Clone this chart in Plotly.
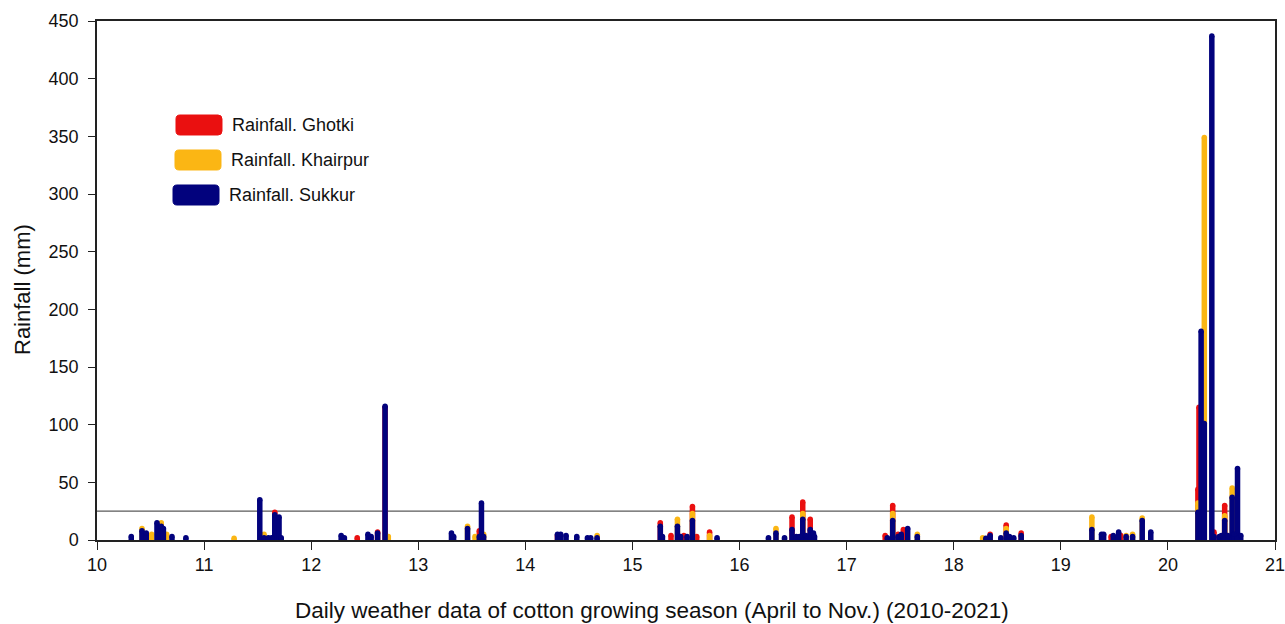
import plotly.graph_objects as go

# Fractional season position (year - 2000 + fraction of April-Nov season)
days = [10.32, 10.42, 10.46, 10.51, 10.56, 10.60, 10.62, 10.65, 10.70, 10.83,
        11.28, 11.52, 11.56, 11.60, 11.63, 11.66, 11.70, 11.72,
        12.28, 12.31, 12.43, 12.53, 12.56, 12.62, 12.69, 12.72,
        13.31, 13.33, 13.46, 13.53, 13.57, 13.59, 13.61,
        14.30, 14.33, 14.38, 14.48, 14.58, 14.61, 14.67,
        15.26, 15.28, 15.36, 15.42, 15.45, 15.48, 15.51, 15.56, 15.60, 15.72, 15.79,
        16.27, 16.34, 16.42, 16.49, 16.53, 16.56, 16.59, 16.62, 16.66, 16.69, 16.70,
        17.36, 17.38, 17.43, 17.48, 17.51, 17.53, 17.57, 17.66,
        18.27, 18.30, 18.34, 18.44, 18.49, 18.52, 18.56, 18.63,
        19.29, 19.38, 19.40, 19.47, 19.49, 19.54, 19.56, 19.61, 19.67, 19.76, 19.84,
        20.28, 20.29, 20.31, 20.34, 20.41, 20.43, 20.48, 20.50, 20.53, 20.56, 20.60, 20.62, 20.65, 20.68]

rain_ghotki = [None, None, None, None, None, None, None, None, None, None,
               None, None, None, None, None, 24, None, None,
               None, None, 2, None, None, 7, 115, None,
               None, None, None, None, 8, None, None,
               4, None, None, None, None, None, None,
               15, None, 4, None, None, 4, None, 29, 3, 7, None,
               None, None, None, 20, None, None, 33, None, 18, None, None,
               4, None, 30, 5, None, 9, None, None,
               None, None, 5, None, 13, None, None, 6,
               None, None, None, 3, None, None, 4, None, None, None, None,
               44, 115, None, None, None, 7, None, None, 30, None, None, None, None, None]

rain_khairpur = [None, 10, None, 5, None, 15, None, 5, None, None,
                 1.5, None, 5, None, None, None, None, None,
                 None, None, None, None, None, None, None, 3,
                 None, None, 12, 3, None, None, 5,
                 None, None, None, None, None, None, 4,
                 None, None, None, 18, None, None, None, 23, None, 4, None,
                 None, 10, None, None, None, None, 23, None, None, None, None,
                 None, None, 23, None, None, None, None, 5,
                 2, None, None, None, 10, None, None, None,
                 20, None, None, None, None, None, None, 4, 5, 19, None,
                 32, None, None, 349, None, None, None, None, 21, None, 45, None, None, None]

rain_sukkur = [3, 8, 6, None, 15, 12, 10, None, 3, 2,
               None, 35, 2, 2, 2, 22, 20, 2,
               4, 2, None, 5, 3, 6, 116, None,
               6, 3, 10, None, 3, 32, 3,
               5, 5, 4, 3, 2, 2, 2,
               12, 3, None, 12, 3, None, 3, 17, None, None, 2,
               2, 6, 2, 9, 3, 3, 18, 4, 9, 6, 3,
               None, 2, 17, 3, 5, None, 10, 3,
               None, 1.5, 4, 2, 6, 3, 2, 4,
               9, 5, 5, None, 4, 7, None, 3, 3, 17, 7,
               24, None, 181, 101, 437, 3, 3, 4, 17, 4, 37, 5, 62, 4]

series_names = ["Rainfall. Ghotki", "Rainfall. Khairpur", "Rainfall. Sukkur"]
series_colors = ["#ea1010", "#fbb614", "#02027d"]
series_values = [rain_ghotki, rain_khairpur, rain_sukkur]

ref_level = 25          # thin grey horizontal reference line
ref_span = [10, 20.65]

x_ticks = list(range(10, 22))
y_ticks = list(range(0, 451, 50))

x_title = "Daily weather data of cotton growing season (April to Nov.) (2010-2021)"
y_title = "Rainfall (mm)"

FONT = "Arial, Liberation Sans, sans-serif"
W, H = 1285, 624
PL, PR, PT, PB = 97, 1275, 21, 540   # plot-area pixel box


def paper_x(px):
    return (px - PL) / (PR - PL)


def paper_y(py):
    return (PB - py) / (PB - PT)


fig = go.Figure()

# reference line
fig.add_trace(go.Scatter(x=ref_span, y=[ref_level, ref_level], mode="lines",
                         line=dict(color="#5a5a5a", width=1.2),
                         hoverinfo="skip", showlegend=False))

for name, color, vals in zip(series_names, series_colors, series_values):
    xs, ys, tx, ty = [], [], [], []
    for d, v in zip(days, vals):
        if v is None:
            continue
        xs += [d, d, None]
        ys += [0, v, None]
        tx.append(d)
        ty.append(v)
    fig.add_trace(go.Scatter(x=xs, y=ys, mode="lines", name=name,
                             line=dict(color=color, width=5.5),
                             showlegend=False, hoverinfo="skip"))
    fig.add_trace(go.Scatter(x=tx, y=ty, mode="markers", name=name,
                             marker=dict(color=color, size=5.5, line=dict(width=0)),
                             showlegend=False))

# manual legend (rounded swatches + real text)
legend_y = [125, 160, 195]      # pixel centres
legend_x0 = [176, 175, 173]
shapes = []
annotations = []
for i, (name, color) in enumerate(zip(series_names, series_colors)):
    x0 = legend_x0[i]
    x1 = x0 + 46
    yc = legend_y[i]
    y0p, y1p = yc - 10, yc + 10
    r = 4

    def P(x, y):
        return f"{paper_x(x):.5f},{paper_y(y):.5f}"
    path = (f"M {P(x0 + r, y0p)} L {P(x1 - r, y0p)} Q {P(x1, y0p)} {P(x1, y0p + r)} "
            f"L {P(x1, y1p - r)} Q {P(x1, y1p)} {P(x1 - r, y1p)} L {P(x0 + r, y1p)} "
            f"Q {P(x0, y1p)} {P(x0, y1p - r)} L {P(x0, y0p + r)} Q {P(x0, y0p)} {P(x0 + r, y0p)} Z")
    shapes.append(dict(type="path", xref="paper", yref="paper", path=path,
                       fillcolor=color, line=dict(color=color, width=1),
                       layer="above"))
    annotations.append(dict(xref="paper", yref="paper",
                            x=paper_x(x1 + 8), y=paper_y(yc),
                            text=name, showarrow=False, xanchor="left", yanchor="middle",
                            font=dict(family=FONT, size=18, color="#111")))

# axis titles placed as annotations
annotations.append(dict(xref="paper", yref="paper", x=paper_x(652), y=paper_y(610),
                        text=x_title, showarrow=False, xanchor="center", yanchor="middle",
                        font=dict(family=FONT, size=22.5, color="#111")))
annotations.append(dict(xref="paper", yref="paper", x=paper_x(22), y=paper_y(290),
                        text=y_title, showarrow=False, xanchor="center", yanchor="middle",
                        textangle=-90,
                        font=dict(family=FONT, size=22, color="#111")))
# last x tick label (would be clipped at the page edge by the axis renderer)
annotations.append(dict(xref="x", yref="paper", x=x_ticks[-1], y=paper_y(565),
                        text=str(x_ticks[-1]), showarrow=False, xanchor="center",
                        yanchor="middle",
                        font=dict(family=FONT, size=18, color="#111")))

fig.update_layout(
    width=W, height=H,
    margin=dict(l=PL, r=W - PR, t=PT, b=H - PB),
    paper_bgcolor="white", plot_bgcolor="white",
    font=dict(family=FONT, color="#111"),
    shapes=shapes, annotations=annotations,
    showlegend=False,
)
fig.update_xaxes(range=[10, 21], tickvals=x_ticks,
                 ticktext=[str(t) for t in x_ticks[:-1]] + [""],
                 ticks="outside", ticklen=8, tickwidth=1.2, tickcolor="#222",
                 showline=True, linecolor="#222", linewidth=1.5, mirror=True,
                 showgrid=False, zeroline=False, automargin=False,
                 tickfont=dict(size=18, family=FONT, color="#111"))
fig.update_yaxes(range=[0, 450], tickvals=y_ticks,
                 ticks="outside", ticklen=7, tickwidth=1.2, tickcolor="#222",
                 showline=True, linecolor="#222", linewidth=1.5, mirror=True,
                 showgrid=False, zeroline=False, automargin=False,
                 ticklabelstandoff=6,
                 tickfont=dict(size=18, family=FONT, color="#111"))

fig.write_html("out.html", config={"displayModeBar": False},
               post_script="document.body.style.margin='0';")
